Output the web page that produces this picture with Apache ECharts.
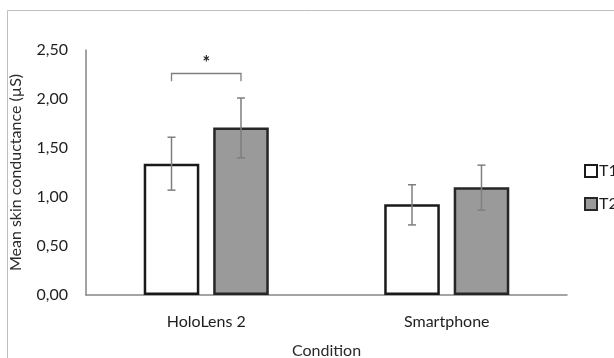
<!DOCTYPE html>
<html><head><meta charset="utf-8">
<script src="https://cdn.jsdelivr.net/npm/echarts@6/dist/echarts.min.js"></script>
<style>html,body{margin:0;padding:0;background:#fff}#c{width:614px;height:358px}</style>
</head><body><div id="c"></div>
<script>
const categories = ['HoloLens 2', 'Smartphone'];
const seriesNames = ['T1', 'T2'];
const t1Values = [1.34, 0.925];
const t2Values = [1.71, 1.10];
const t1ErrLow = [1.07, 0.715];
const t1ErrHigh = [1.61, 1.125];
const t2ErrLow = [1.40, 0.865];
const t2ErrHigh = [2.01, 1.325];
const yTicks = [0, 0.5, 1, 1.5, 2, 2.5];
const sigBracket = { cat: 0, y: 2.26, drop: 0.08, label: '*' };

const FONT = 'Lato';
const FS = 16;
const chart = echarts.init(document.getElementById('c'));

const barGapFrac = 0.25, catGapFrac = 0.48;
function barOffset(api, seriesIdx) {
  const band = api.size([1, 0])[0];
  const groupW = band * (1 - catGapFrac);
  const bw = groupW / (2 + barGapFrac);
  return (seriesIdx === 0 ? -1 : 1) * (bw * (1 + barGapFrac)) / 2;
}
function errSeries(low, high, idx) {
  return {
    type: 'custom', z: 10, silent: true,
    data: categories.map((c, i) => [i, low[i], high[i]]),
    renderItem(params, api) {
      const off = barOffset(api, idx);
      const p1 = api.coord([api.value(0), api.value(1)]);
      const p2 = api.coord([api.value(0), api.value(2)]);
      const x = p1[0] + off, cap = 4;
      const st = { stroke: '#7f7f7f', lineWidth: 1.5 };
      return { type: 'group', children: [
        { type: 'line', shape: { x1: x, y1: p1[1], x2: x, y2: p2[1] }, style: st },
        { type: 'line', shape: { x1: x - cap, y1: p1[1], x2: x + cap, y2: p1[1] }, style: st },
        { type: 'line', shape: { x1: x - cap, y1: p2[1], x2: x + cap, y2: p2[1] }, style: st }
      ]};
    }
  };
}

chart.setOption({
  animation: false,
  textStyle: { fontFamily: FONT },
  graphic: [{ type: 'rect', shape: { x: 7.5, y: 10.5, width: 640, height: 400 }, style: { fill: 'none', stroke: '#c0c0c0', lineWidth: 1 }, silent: true }],
  grid: { left: 86, right: 47, top: 50, bottom: 63, containLabel: false, outerBoundsMode: 'none' },
  legend: {
    orient: 'vertical', left: 579, top: 158, itemGap: 17,
    itemWidth: 12, itemHeight: 12, icon: 'rect',
    textStyle: { fontFamily: FONT, fontSize: FS, color: '#1e1e1e', padding: [0, 0, 0, -3] },
    data: seriesNames
  },
  xAxis: {
    type: 'category', data: categories,
    name: 'Condition', nameLocation: 'middle', nameGap: 48,
    nameTextStyle: { fontSize: FS, color: '#2a2a2a', fontFamily: FONT },
    axisLine: { lineStyle: { color: '#868686', width: 1.5 } },
    axisTick: { show: false },
    axisLabel: { fontSize: FS, color: '#1e1e1e', margin: 19, fontFamily: FONT }
  },
  yAxis: {
    type: 'value', min: 0, max: 2.5, interval: 0.5,
    name: 'Mean skin conductance (µS)', nameLocation: 'middle', nameGap: 62,
    nameTextStyle: { fontSize: FS, color: '#2a2a2a', fontFamily: FONT },
    axisLine: { show: true, lineStyle: { color: '#868686', width: 1.5 } },
    axisTick: { show: false },
    splitLine: { show: false },
    axisLabel: { fontSize: FS, color: '#1e1e1e', margin: 18, fontFamily: FONT,
      formatter: v => v.toFixed(2).replace('.', ',') }
  },
  series: [
    { name: 'T1', type: 'bar', data: t1Values, barGap: '25%', barCategoryGap: '48%',
      itemStyle: { color: '#ffffff', borderColor: '#1a1a1a', borderWidth: 2.5 } },
    { name: 'T2', type: 'bar', data: t2Values,
      itemStyle: { color: '#9a9a9a', borderColor: '#262626', borderWidth: 2.5 } },
    errSeries(t1ErrLow, t1ErrHigh, 0),
    errSeries(t2ErrLow, t2ErrHigh, 1),
    {
      type: 'custom', z: 10, silent: true,
      data: [[sigBracket.cat, sigBracket.y, sigBracket.y - sigBracket.drop]],
      renderItem(params, api) {
        const top = api.coord([api.value(0), api.value(1)]);
        const bot = api.coord([api.value(0), api.value(2)]);
        const xa = top[0] + barOffset(api, 0), xb = top[0] + barOffset(api, 1);
        const st = { stroke: '#7f7f7f', lineWidth: 1.3, fill: 'none' };
        return { type: 'group', children: [
          { type: 'polyline', shape: { points: [[xa, bot[1]], [xa, top[1]], [xb, top[1]], [xb, bot[1]]] }, style: st },
          { type: 'text', x: (xa + xb) / 2, y: top[1] - 1, style: { text: sigBracket.label, textAlign: 'center', textVerticalAlign: 'bottom', fontSize: 18, fontWeight: 'bold', fill: '#222', fontFamily: FONT } }
        ]};
      }
    }
  ]
});
</script></body></html>
